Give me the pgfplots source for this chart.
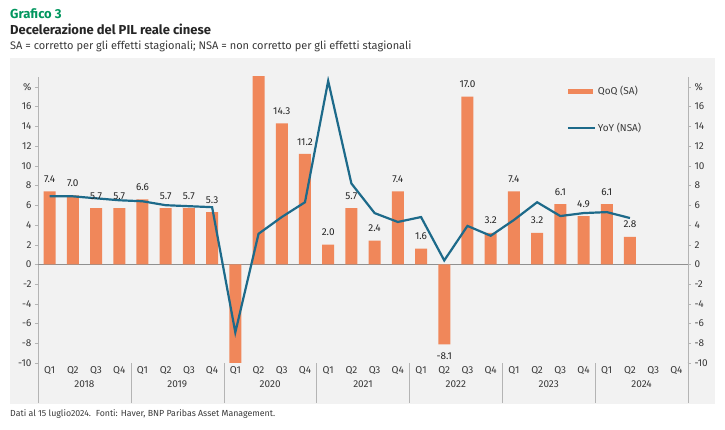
\documentclass[border=0pt]{standalone}
\usepackage{fontspec}
\setmainfont{Fira Sans}
\usepackage{pgfplots}
\pgfplotsset{compat=1.18}
\definecolor{barc}{HTML}{F0875A}
\definecolor{linec}{HTML}{1D6A8A}
\definecolor{bnpgreen}{HTML}{00965E}
\definecolor{panel}{HTML}{F2F2F2}
\definecolor{txt}{HTML}{3A3A3A}
\definecolor{axc}{HTML}{B4B4B4}
\begin{document}
\begin{tikzpicture}[x=1pt,y=1pt]
\useasboundingbox (0pt,0pt) rectangle (725pt,430pt);
\fill[white] (0pt,0pt) rectangle (725pt,430pt);
\fill[panel] (10pt,26pt) rectangle (715pt,372pt);
\node[anchor=base west, inner sep=0, font=\fontsize{13}{15}\selectfont\bfseries, text=bnpgreen] at (10pt,411pt) {Grafico 3};
\node[anchor=base west, inner sep=0, font=\fontsize{13}{15}\selectfont\bfseries, text=black!85] at (10pt,395pt) {Decelerazione del PIL reale cinese};
\node[anchor=base west, inner sep=0, font=\fontsize{11}{13}\selectfont, text=txt] at (10pt,380pt) {SA = corretto per gli effetti stagionali; NSA = non corretto per gli effetti stagionali};
\node[anchor=base west, inner sep=0, font=\fontsize{8.8}{10.5}\selectfont, text=txt] at (10pt,13pt) {Dati al 15 luglio2024.\ \ Fonti: Haver, BNP Paribas Asset Management.};
\begin{axis}[
  at={(38pt,67pt)}, anchor=south west,
  width=650pt, height=286pt, scale only axis,
  xmin=-0.5, xmax=27.5, ymin=-10, ymax=19,
  axis x line*=bottom, axis y line*=left,
  x axis line style={draw=none},
  y axis line style={draw=axc},
  tick align=outside,
  major tick length=3pt,
  minor tick length=40pt,
  ytick={-10,-8,...,18},
  yticklabels={-10,-8,-6,-4,-2,0,2,4,6,8,10,12,14,16,\%},
  xtick={0,...,27},
  xticklabels={Q1,Q2,Q3,Q4,Q1,Q2,Q3,Q4,Q1,Q2,Q3,Q4,Q1,Q2,Q3,Q4,Q1,Q2,Q3,Q4,Q1,Q2,Q3,Q4,Q1,Q2,Q3,Q4},
  xticklabel style={yshift=3pt},
  minor xtick={-0.5,3.5,...,27.5},
  extra x ticks={1.5,5.5,...,25.5},
  extra x tick labels={2018,2019,2020,2021,2022,2023,2024},
  extra x tick style={xticklabel style={yshift=-14pt}},
  major x tick style={draw=none},
  minor x tick style={draw=axc},
  y tick style={draw=axc},
  /pgf/number format/assume math mode=true,
  ticklabel style={font=\fontsize{10}{12}\selectfont, text=txt},
  legend style={at={(rel axis cs:0.813,0.975)}, anchor=north west, draw=none, fill=none, inner sep=0pt, row sep=23pt, font=\fontsize{10}{12}\selectfont, text=txt},
  legend cell align=left,
]
\draw[axc!80!black] (axis cs:-0.5,0) -- (axis cs:27.5,0);
\addplot[ybar, bar width=12pt, bar shift=0pt, fill=barc, draw=none,
  legend image code/.code={\fill[barc] (0pt,-2.5pt) rectangle (25pt,2.5pt);},
  nodes near coords,
  point meta=y,
  every node near coord/.append style={font=\fontsize{10}{12}\selectfont, text=black!85, inner sep=8.5pt,
    /pgf/number format/fixed, /pgf/number format/fixed zerofill, /pgf/number format/precision=1, /pgf/number format/assume math mode=true}]
coordinates {
(0,7.4) (1,7.0) (2,5.7) (3,5.7) (4,6.6) (5,5.7) (6,5.7) (7,5.3)
(10,14.3) (11,11.2) (12,2.0) (13,5.7) (14,2.4) (15,7.4)
(16,1.6) (17,-8.1) (18,17.0) (19,3.2) (20,7.4) (21,3.2) (22,6.1) (23,4.9)
(24,6.1) (25,2.8)
};
\addlegendentry{QoQ (SA)}
\addplot[ybar, bar width=12pt, bar shift=0pt, fill=barc, draw=none, forget plot]
coordinates {(8,-10.5) (9,19.5)};
\addplot[linec, line width=2.2pt, sharp plot, mark=none, line join=miter,
  legend image code/.code={\draw[linec, line width=2.2pt] (0pt,0pt) -- (27pt,0pt);}]
coordinates {
(0,6.9) (1,6.9) (2,6.7) (3,6.5) (4,6.4) (5,6.0) (6,5.9) (7,5.8)
(8,-6.9) (9,3.1) (10,4.8) (11,6.3) (12,18.6) (13,8.2) (14,5.2) (15,4.3)
(16,4.8) (17,0.4) (18,3.9) (19,2.9) (20,4.5) (21,6.3) (22,4.9) (23,5.2)
(24,5.3) (25,4.7)
};
\addlegendentry{YoY (NSA)}
\end{axis}
\begin{axis}[
  at={(38pt,67pt)}, anchor=south west,
  width=650pt, height=286pt, scale only axis,
  xmin=-0.5, xmax=27.5, ymin=-10, ymax=19,
  axis x line=none, axis y line*=right,
  y axis line style={draw=axc},
  tick align=outside,
  major tick length=3pt,
  ytick={-10,-8,...,18},
  yticklabels={-10,-8,-6,-4,-2,0,2,4,6,8,10,12,14,16,\%},
  y tick style={draw=axc},
  /pgf/number format/assume math mode=true,
  ticklabel style={font=\fontsize{10}{12}\selectfont, text=txt},
]
\addplot[draw=none] coordinates {(0,0)};
\draw[axc] (axis cs:27.5,-10) -- ++(0,-40pt);
\end{axis}
\end{tikzpicture}
\end{document}
